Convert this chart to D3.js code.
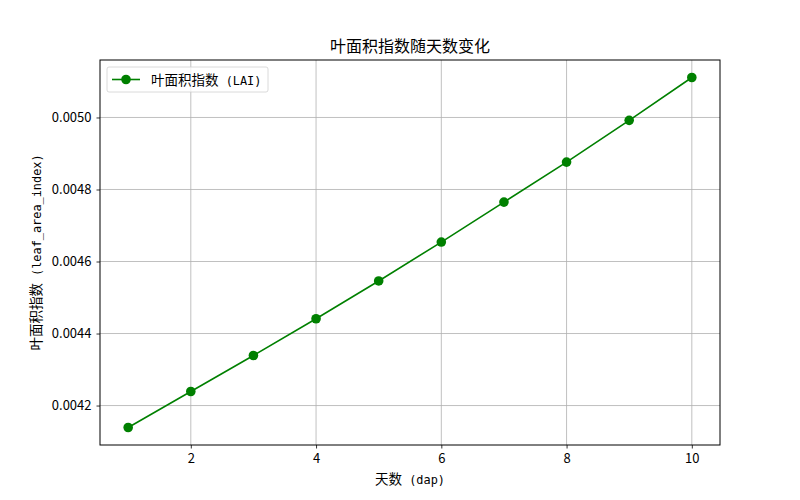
<!DOCTYPE html>
<html>
<head>
<meta charset="utf-8">
<script src="https://cdn.jsdelivr.net/npm/d3@7"></script>
<style>
body { margin: 0; background: #fff; }
text { font-family: "Noto Sans CJK SC", "DejaVu Sans", sans-serif; }
</style>
</head>
<body>
<div id="chart"></div>
<script>
const days = [1, 2, 3, 4, 5, 6, 7, 8, 9, 10];
const lai = [0.004139, 0.004239, 0.004339, 0.004441, 0.004546, 0.004654, 0.004765, 0.004876, 0.004992, 0.005111];
const xTicks = [2, 4, 6, 8, 10];
const yTicks = [0.0042, 0.0044, 0.0046, 0.0048, 0.0050];

const width = 800, height = 500;
const margin = {top: 60, right: 80, bottom: 55, left: 100};
const green = "#008000";

// CJK runs in the CJK font, latin runs in a monospace font (like SimHei's half-width latin)
function mixedText(sel, str, cjkSize) {
    let runs = str.match(/[\u4e00-\u9fff]+|[^\u4e00-\u9fff]+/g);
    runs.forEach(r => {
        let isCjk = /[\u4e00-\u9fff]/.test(r);
        sel.append("tspan")
            .style("font-family", isCjk ? '"Noto Sans CJK SC"' : '"DejaVu Sans Mono", monospace')
            .attr("font-size", isCjk ? cjkSize : cjkSize * 0.88)
            .text(r);
    });
    sel.attr("xml:space", "preserve");
    return sel;
}

let svg = d3.select("#chart").append("svg")
    .attr("width", width)
    .attr("height", height);

let x = d3.scaleLinear()
    .domain([0.55, 10.45])
    .range([margin.left, width - margin.right]);

let pad = (d3.max(lai) - d3.min(lai)) * 0.05;
let y = d3.scaleLinear()
    .domain([d3.min(lai) - pad, d3.max(lai) + pad])
    .range([height - margin.bottom, margin.top]);

// grid
svg.append("g").selectAll("line")
    .data(xTicks)
    .join("line")
    .attr("x1", d => x(d)).attr("x2", d => x(d))
    .attr("y1", margin.top).attr("y2", height - margin.bottom)
    .attr("stroke", "#b0b0b0").attr("stroke-width", 0.8);

svg.append("g").selectAll("line")
    .data(yTicks)
    .join("line")
    .attr("x1", margin.left).attr("x2", width - margin.right)
    .attr("y1", d => y(d)).attr("y2", d => y(d))
    .attr("stroke", "#b0b0b0").attr("stroke-width", 0.8);

// axes
let xAxis = svg.append("g")
    .attr("transform", `translate(0,${height - margin.bottom})`)
    .call(d3.axisBottom(x).tickValues(xTicks).tickSize(3.5).tickPadding(5).tickFormat(d3.format("d")));
let yAxis = svg.append("g")
    .attr("transform", `translate(${margin.left},0)`)
    .call(d3.axisLeft(y).tickValues(yTicks).tickSize(3.5).tickPadding(5).tickFormat(d3.format(".4f")));

[xAxis, yAxis].forEach(a => {
    a.select(".domain").remove();
    a.selectAll("text").attr("font-size", 13).attr("fill", "#000")
        .style("font-family", '"Noto Sans CJK SC", sans-serif');
    a.selectAll("line").attr("stroke", "#000").attr("stroke-width", 0.8);
});

svg.append("rect")
    .attr("x", margin.left).attr("y", margin.top)
    .attr("width", width - margin.left - margin.right)
    .attr("height", height - margin.top - margin.bottom)
    .attr("fill", "none").attr("stroke", "#000").attr("stroke-width", 1);

// line + markers
let line = d3.line().x((d, i) => x(days[i])).y(d => y(d));
svg.append("path")
    .datum(lai)
    .attr("d", line)
    .attr("fill", "none")
    .attr("stroke", green)
    .attr("stroke-width", 1.6);

svg.append("g").selectAll("circle")
    .data(lai)
    .join("circle")
    .attr("cx", (d, i) => x(days[i]))
    .attr("cy", d => y(d))
    .attr("r", 4.8)
    .attr("fill", green);

// titles
svg.append("text")
    .attr("x", (margin.left + width - margin.right) / 2)
    .attr("y", 52)
    .attr("text-anchor", "middle")
    .attr("font-size", 16)
    .text("叶面积指数随天数变化");

mixedText(svg.append("text")
    .attr("x", (margin.left + width - margin.right) / 2)
    .attr("y", 484)
    .attr("text-anchor", "middle"), "天数 (dap)", 13.5);

mixedText(svg.append("text")
    .attr("transform", `translate(41,${(margin.top + height - margin.bottom) / 2}) rotate(-90)`)
    .attr("text-anchor", "middle"), "叶面积指数 (leaf_area_index)", 13.5);

// legend
let lg = svg.append("g").attr("transform", `translate(${margin.left + 7},${margin.top + 7})`);
lg.append("rect")
    .attr("width", 161).attr("height", 25).attr("rx", 2)
    .attr("fill", "#fff").attr("fill-opacity", 0.8)
    .attr("stroke", "#d0d0d0").attr("stroke-width", 0.8);
lg.append("line")
    .attr("x1", 5).attr("x2", 33).attr("y1", 12.5).attr("y2", 12.5)
    .attr("stroke", green).attr("stroke-width", 1.6);
lg.append("circle").attr("cx", 19).attr("cy", 12.5).attr("r", 4.8).attr("fill", green);
mixedText(lg.append("text")
    .attr("x", 44).attr("y", 17.5), "叶面积指数 (LAI)", 13.5);
</script>
</body>
</html>
